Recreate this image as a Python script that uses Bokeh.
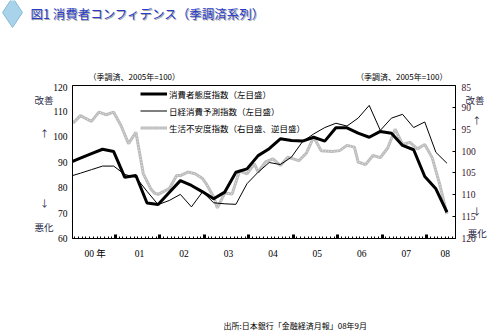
from bokeh.plotting import figure
from bokeh.models import (Range1d, LinearAxis, FixedTicker, Legend, LegendItem, AllLabels)
from bokeh.layouts import column, row
from bokeh.core.properties import value
from bokeh.embed import file_html
from bokeh.resources import INLINE

# ---------------- data ----------------
q_dates = ["1999-12", "2000-03", "2000-06", "2000-09", "2000-12", "2001-03", "2001-06", "2001-09",
           "2001-12", "2002-03", "2002-06", "2002-09", "2002-12", "2003-03", "2003-06", "2003-09",
           "2003-12", "2004-03", "2004-06", "2004-09", "2004-12", "2005-03", "2005-06", "2005-09",
           "2005-12", "2006-03", "2006-06", "2006-09", "2006-12", "2007-03", "2007-06", "2007-09",
           "2007-12", "2008-03", "2008-06"]
attitude = [89.7, 91.5, 93.3, 95.0, 94.1, 84.0, 84.7, 73.9,
            73.3, 78.0, 82.7, 80.8, 78.3, 75.6, 78.2, 86.0,
            87.3, 92.5, 95.2, 99.1, 98.4, 98.2, 99.7, 98.2,
            103.4, 103.4, 101.3, 99.7, 102.0, 101.3, 96.5, 94.8,
            84.3, 79.5, 70.3]
nikkei = [84.3, 85.6, 87.0, 88.4, 88.4, 85.1, 84.0, 78.5,
          73.3, 74.9, 77.3, 72.4, 78.3, 74.0, 73.6, 73.4,
          81.5, 86.0, 89.8, 89.0, 91.9, 98.0, 101.0, 103.5,
          105.2, 104.1, 107.2, 112.2, 102.4, 107.2, 108.7, 103.5,
          105.7, 93.8, 89.5]
g_dates = ["2000-01", "2000-03", "2000-06", "2000-08", "2000-10", "2000-12", "2001-02", "2001-04",
           "2001-06", "2001-08", "2001-10", "2001-11", "2001-12", "2002-03", "2002-05", "2002-06",
           "2002-08", "2002-10", "2002-12", "2003-01", "2003-03", "2003-04", "2003-06", "2003-08",
           "2003-10", "2003-12", "2004-02", "2004-03", "2004-05", "2004-07", "2004-09", "2004-11",
           "2005-02", "2005-04", "2005-06", "2005-08", "2005-11", "2006-01", "2006-03", "2006-05",
           "2006-06", "2006-08", "2006-10", "2006-12", "2007-02", "2007-04", "2007-06", "2007-08",
           "2007-10", "2007-12", "2008-02", "2008-04", "2008-06"]
anxiety = [93.6, 91.9, 93.2, 91.1, 91.7, 91.1, 94.2, 98.3,
           95.7, 105.2, 108.6, 109.6, 109.9, 108.6, 105.6, 105.6,
           104.8, 105.2, 106.3, 107.5, 110.5, 113.0, 109.6, 109.8,
           104.5, 105.2, 102.9, 104.8, 102.5, 101.8, 103.3, 101.4,
           102.2, 100.5, 96.8, 99.9, 100.1, 99.9, 98.7, 99.1,
           102.5, 103.1, 101.0, 101.5, 99.3, 95.0, 98.5, 98.0,
           99.5, 98.5, 101.5, 107.5, 114.4]
year_labels = ["00 年", "01", "02", "03", "04", "05", "06", "07", "08"]
left_ticks = [60, 70, 80, 90, 100, 110, 120]
right_ticks = [85, 90, 95, 100, 105, 110, 115, 120]
series_names = ["消費者態度指数（左目盛）", "日経消費予測指数（左目盛）", "生活不安度指数（右目盛、逆目盛）"]
title_text = "図1 消費者コンフィデンス（季調済系列）"
unit_text = "（季調済、2005年=100）"
source_text = "出所:日本銀行「金融経済月報」08年9月"
left_notes = ["改善", "↑\u00a0\u00a0", "↓\u00a0\u00a0", "悪化"]
right_notes = ["改善", "\u00a0\u00a0\u00a0↑", "\u00a0\u00a0\u00a0↓", "\u00a0悪化"]


def mpos(d):
    y, m = d.split("-")
    return (int(y) - 2000) * 12 + (int(m) - 1) + 0.5


xq = [mpos(d) for d in q_dates]
xg = [mpos(d) for d in g_dates]

W = 499
TOP_H, MID_H, BOT_H = 83, 217, 31
FT, FB = 85, 238            # frame top / bottom in page pixels
JP = "Noto Sans CJK JP"
SERIF = "'Liberation Serif', 'Noto Sans CJK JP'"


def strip(h):
    s = figure(width=W, height=h, output_backend="svg", toolbar_location=None,
               x_range=Range1d(0, W), y_range=Range1d(h, 0),
               x_axis_type=None, y_axis_type=None, min_border=0)
    s.grid.visible = False
    s.outline_line_color = None
    s.background_fill_color = "white"
    s.border_fill_color = "white"
    return s


# ---------------- top strip: title + unit notes ----------------
top = strip(TOP_H)
top.scatter([12], [12], marker="diamond", size=30, fill_color="#a9d3ea", line_color="#86b9d6")
top.text([31], [14], text=[title_text], text_font=value(JP), text_font_size="12.5px",
         text_color="#a8a8a8", text_baseline="middle")
top.text([30], [13], text=[title_text], text_font=value(JP), text_font_size="12.5px",
         text_color="#2a3cc8", text_baseline="middle")
top.text([88], [76], text=[unit_text], text_font=value(JP), text_font_size="8px",
         text_color="black", text_baseline="middle")
top.text([447], [76], text=[unit_text], text_font=value(JP), text_font_size="8px",
         text_color="black", text_baseline="middle", text_align="right")

# ---------------- chart ----------------
p = figure(width=W, height=MID_H, output_backend="svg", toolbar_location=None,
           x_range=Range1d(0.38, 103.8), y_range=Range1d(60, 120),
           x_axis_type=None, y_axis_type=None,
           min_border_left=72, min_border_right=44, min_border_top=FT - TOP_H,
           min_border_bottom=TOP_H + MID_H - FB)
p.extra_y_ranges = {"r": Range1d(start=120, end=85)}
p.xgrid.visible = False
p.ygrid.visible = False
p.outline_line_color = "black"
p.outline_line_width = 1
p.background_fill_color = "white"
p.border_fill_color = "white"


def yval(ypix):
    # page pixel -> left-scale value (for note placement only)
    return 120 - (ypix - FT) * 60.0 / (FB - FT)


la = LinearAxis(ticker=FixedTicker(ticks=left_ticks), major_tick_out=0, major_tick_in=0,
                minor_tick_out=0, minor_tick_in=0, major_label_standoff=5,
                major_label_text_font=SERIF, major_label_text_font_size="9.5px",
                major_label_text_color="black", axis_line_color="black")
p.add_layout(la, "left")
lpos = [yval(v) for v in (99, 132, 202, 226)]
ln = LinearAxis(ticker=FixedTicker(ticks=lpos), major_tick_out=0, major_tick_in=0,
                minor_tick_out=0, minor_tick_in=0, major_label_standoff=-3,
                major_label_text_font=JP, major_label_text_font_size="9.5px",
                major_label_text_color="#2a2a48", axis_line_color=None,
                major_label_policy=AllLabels())
ln.major_label_overrides = {t: s for t, s in zip(lpos, left_notes)}
p.add_layout(ln, "left")

ra = LinearAxis(y_range_name="r", ticker=FixedTicker(ticks=right_ticks), major_tick_out=0,
                major_tick_in=3, minor_tick_out=0, minor_tick_in=0, major_label_standoff=6,
                major_label_text_font=SERIF, major_label_text_font_size="9.5px",
                major_label_text_color="#3a1028", axis_line_color="black")
p.add_layout(ra, "right")
rpos = [yval(v) for v in (99, 119, 210, 232)]
rn = LinearAxis(ticker=FixedTicker(ticks=rpos), major_tick_out=0, major_tick_in=0,
                minor_tick_out=0, minor_tick_in=0, major_label_standoff=-13,
                major_label_text_font=JP, major_label_text_font_size="9.5px",
                major_label_text_color="#2a2a48", axis_line_color=None,
                major_label_policy=AllLabels())
rn.major_label_overrides = {t: s for t, s in zip(rpos, right_notes)}
p.add_layout(rn, "right")

year_starts = [12 * k for k in range(1, 9)]
months = [m for m in range(1, 104) if m % 12 != 0]
ba = LinearAxis(ticker=FixedTicker(ticks=year_starts, minor_ticks=months),
                major_tick_in=4, major_tick_out=0, major_tick_line_width=3,
                minor_tick_in=2, minor_tick_out=0, minor_tick_line_width=1,
                major_label_text_font_size="0px", major_label_standoff=0,
                axis_line_color="black")
ba.major_label_overrides = {t: "" for t in year_starts}
p.add_layout(ba, "below")
ymids = [12 * k + 6.5 for k in range(8)] + [101]
ya = LinearAxis(ticker=FixedTicker(ticks=ymids), major_tick_in=0, major_tick_out=0,
                minor_tick_in=0, minor_tick_out=0, axis_line_color=None,
                major_label_standoff=10, major_label_text_font=SERIF,
                major_label_text_font_size="9.5px", major_label_text_color="black")
ya.major_label_overrides = {t: s for t, s in zip(ymids, year_labels)}
p.add_layout(ya, "below")

g1 = p.line(xg, anxiety, y_range_name="r", line_width=3, line_color="#bcbcbc")
g2 = p.line(xg, anxiety, y_range_name="r", line_width=1, line_color="#e8e8e8", line_dash="1 2")
t1 = p.line(xq, nikkei, line_width=1, line_color="black")
b1 = p.line(xq, attitude, line_width=3, line_color="black")

legend = Legend(items=[LegendItem(label=series_names[0], renderers=[b1]),
                       LegendItem(label=series_names[1], renderers=[t1]),
                       LegendItem(label=series_names[2], renderers=[g1, g2])],
                location=(68, 102), orientation="vertical",
                glyph_width=27, glyph_height=17, label_height=17, label_standoff=2,
                spacing=0, padding=0, margin=0,
                label_text_font=JP, label_text_font_size="8.5px", label_text_color="black",
                background_fill_alpha=0, border_line_color=None)
p.add_layout(legend)

# ---------------- bottom strip: source ----------------
bot = strip(BOT_H)
bot.text([223], [25], text=[source_text], text_font=value(JP), text_font_size="8px",
         text_color="black", text_baseline="middle")

layout = column(row(top), row(p), row(bot), spacing=0)
open("out.html", "w").write(file_html(layout, INLINE))
